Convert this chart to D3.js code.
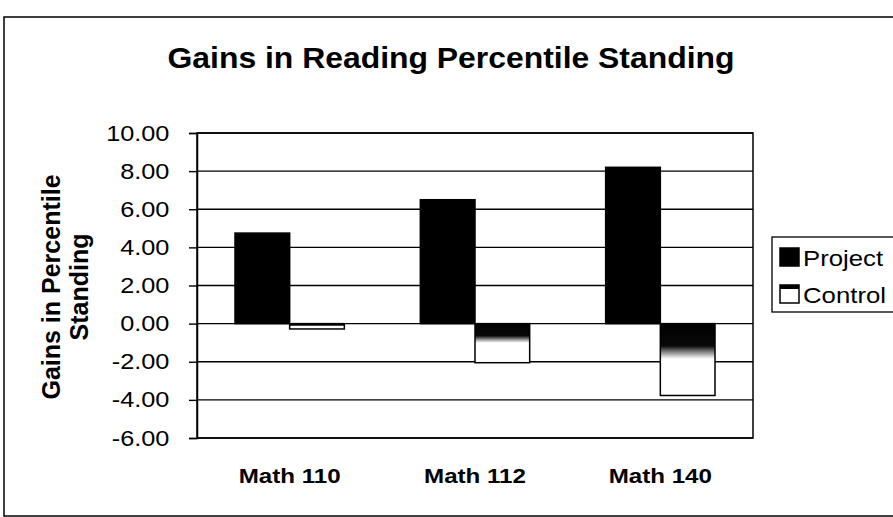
<!DOCTYPE html>
<html>
<head>
<meta charset="utf-8">
<script src="https://cdn.jsdelivr.net/npm/d3@7"></script>
<style>
  body { margin: 0; background: #fff; }
  text { font-family: Arial, "Liberation Sans", sans-serif; fill: #000; }
</style>
</head>
<body>
<div class="viewbox"></div>
<script>
// chart data
const categories = ["Math 110", "Math 112", "Math 140"];
const seriesNames = ["Project", "Control"];
const projectValues = [4.75, 6.5, 8.2];
const controlValues = [-0.28, -2.05, -3.77];
const yTickValues = [-6, -4, -2, 0, 2, 4, 6, 8, 10];
const yTickLabels = ["-6.00", "-4.00", "-2.00", "0.00", "2.00", "4.00", "6.00", "8.00", "10.00"];

const svg_width = 893;
const svg_height = 517;
const stretch = 1.15; // the scan is a bit wider than tall

let svg = d3.select(".viewbox")
  .append("svg")
  .attr("width", svg_width)
  .attr("height", svg_height);

// gradient used by the Control bars (solid dark on top, then white)
let grad = svg.append("defs").append("linearGradient")
  .attr("id", "ctrlFill")
  .attr("x1", 0).attr("y1", 0).attr("x2", 0).attr("y2", 1);
grad.append("stop").attr("offset", "0%").attr("stop-color", "#000");
grad.append("stop").attr("offset", "31%").attr("stop-color", "#080808");
grad.append("stop").attr("offset", "40%").attr("stop-color", "#8a8a8a");
grad.append("stop").attr("offset", "49%").attr("stop-color", "#fff");
grad.append("stop").attr("offset", "100%").attr("stop-color", "#fff");

// outer chart frame (right side runs off the page)
svg.append("rect")
  .attr("x", 4).attr("y", 17)
  .attr("width", 920).attr("height", 499)
  .attr("fill", "none").attr("stroke", "#000").attr("stroke-width", 1.5);

const plot = { left: 197, right: 753, top: 133, bottom: 438 };

let y = d3.scaleLinear().domain([-6, 10]).range([plot.bottom, plot.top]);
let x0 = d3.scaleBand().domain(categories)
  .range([plot.left, plot.right])
  .paddingInner(0.41).paddingOuter(0.205);
let x1 = d3.scaleBand().domain(seriesNames).range([0, x0.bandwidth()]);

// plot area
svg.append("rect")
  .attr("x", plot.left).attr("y", plot.top)
  .attr("width", plot.right - plot.left).attr("height", plot.bottom - plot.top)
  .attr("fill", "#fff").attr("stroke", "#000").attr("stroke-width", 1.5);

// gridlines
svg.append("g").selectAll("line")
  .data(yTickValues)
  .enter().append("line")
  .attr("x1", plot.left).attr("x2", plot.right)
  .attr("y1", d => y(d)).attr("y2", d => y(d))
  .attr("stroke", "#000").attr("stroke-width", 1.4);

// y axis
let yAxis = svg.append("g")
  .attr("transform", `translate(${plot.left},0)`)
  .call(d3.axisLeft(y)
    .tickValues(yTickValues)
    .tickFormat((d, i) => yTickLabels[i])
    .tickSize(8)
    .tickPadding(16));
yAxis.select(".domain").attr("stroke", "#000").attr("stroke-width", 1.5);
yAxis.selectAll(".tick line").attr("stroke", "#000").attr("stroke-width", 1.4);
yAxis.selectAll(".tick text")
  .style("font-size", "22px")
  .attr("fill", "#000")
  .attr("transform", `scale(${stretch},1)`);

// bars
let rows = categories.map((c, i) => ({ cat: c, Project: projectValues[i], Control: controlValues[i] }));
let groups = svg.append("g").selectAll("g")
  .data(rows)
  .enter().append("g")
  .attr("transform", d => `translate(${x0(d.cat)},0)`);

groups.selectAll("rect")
  .data(d => seriesNames.map(s => ({ key: s, value: d[s] })))
  .enter().append("rect")
  .attr("x", d => x1(d.key))
  .attr("width", x1.bandwidth())
  .attr("y", d => y(Math.max(0, d.value)))
  .attr("height", d => Math.abs(y(d.value) - y(0)))
  .attr("fill", d => d.key === "Project" ? "#000" : "url(#ctrlFill)")
  .attr("stroke", "#000")
  .attr("stroke-width", 1.5);

// category labels
svg.append("g").selectAll("text")
  .data(categories)
  .enter().append("text")
  .attr("transform", d => `translate(${x0(d) + x0.bandwidth() / 2},483) scale(${stretch},1)`)
  .attr("text-anchor", "middle")
  .style("font-size", "21px")
  .style("font-weight", "bold")
  .text(d => d);

// title
svg.append("text")
  .attr("transform", "translate(451,68) scale(1.1,1)")
  .attr("text-anchor", "middle")
  .style("font-size", "29px")
  .style("font-weight", "bold")
  .text("Gains in Reading Percentile Standing");

// y axis title, two lines
let yTitle = svg.append("text")
  .attr("transform", "translate(60,287) rotate(-90)")
  .attr("text-anchor", "middle")
  .style("font-size", "25px")
  .style("font-weight", "bold");
yTitle.append("tspan").attr("x", 0).attr("dy", 0).text("Gains in Percentile");
yTitle.append("tspan").attr("x", 0).attr("dy", 28).text("Standing");

// legend
let legend = svg.append("g").attr("transform", "translate(772,237)");
legend.append("rect")
  .attr("width", 140).attr("height", 75)
  .attr("fill", "#fff").attr("stroke", "#000").attr("stroke-width", 1.3);

let items = legend.selectAll("g.item")
  .data(seriesNames)
  .enter().append("g")
  .attr("class", "item")
  .attr("transform", (d, i) => `translate(8,${11 + i * 37})`);

items.append("rect")
  .attr("width", 19).attr("height", 18)
  .attr("fill", "#fff")
  .attr("stroke", "#000").attr("stroke-width", 1.5);
items.filter(d => d === "Project").select("rect").attr("fill", "#000");
items.filter(d => d === "Control").append("rect")
  .attr("width", 19).attr("height", 4).attr("fill", "#000");

items.append("text")
  .attr("transform", `translate(23,18) scale(1.12,1)`)
  .style("font-size", "23px")
  .text(d => d);
</script>
</body>
</html>
